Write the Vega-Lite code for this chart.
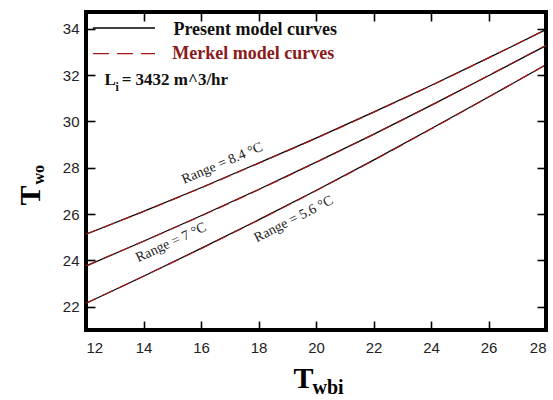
{
  "$schema": "https://vega.github.io/schema/vega-lite/v6.json",
  "width": 460,
  "height": 318,
  "autosize": {"type": "none"},
  "padding": {"left": 86, "top": 12, "right": 7, "bottom": 70},
  "background": "white",
  "config": {
    "view": {"stroke": "black", "strokeWidth": 4},
    "axis": {
      "labelFont": "Liberation Sans",
      "labelFontSize": 15,
      "labelColor": "#222222",
      "domain": false,
      "grid": false,
      "titleFont": "Liberation Serif",
      "titleFontWeight": "bold",
      "titleColor": "black"
    }
  },
  "datasets": {
    "curves": [
      {"model": "Present", "range": 8.4, "twbi": 12, "two": 25.13},
      {"model": "Present", "range": 8.4, "twbi": 14, "two": 26.12},
      {"model": "Present", "range": 8.4, "twbi": 16, "two": 27.14},
      {"model": "Present", "range": 8.4, "twbi": 18, "two": 28.2},
      {"model": "Present", "range": 8.4, "twbi": 20, "two": 29.28},
      {"model": "Present", "range": 8.4, "twbi": 22, "two": 30.4},
      {"model": "Present", "range": 8.4, "twbi": 24, "two": 31.55},
      {"model": "Present", "range": 8.4, "twbi": 26, "two": 32.74},
      {"model": "Present", "range": 8.4, "twbi": 28, "two": 33.96},
      {"model": "Present", "range": 7, "twbi": 12, "two": 23.76},
      {"model": "Present", "range": 7, "twbi": 14, "two": 24.83},
      {"model": "Present", "range": 7, "twbi": 16, "two": 25.93},
      {"model": "Present", "range": 7, "twbi": 18, "two": 27.06},
      {"model": "Present", "range": 7, "twbi": 20, "two": 28.24},
      {"model": "Present", "range": 7, "twbi": 22, "two": 29.44},
      {"model": "Present", "range": 7, "twbi": 24, "two": 30.69},
      {"model": "Present", "range": 7, "twbi": 26, "two": 31.97},
      {"model": "Present", "range": 7, "twbi": 28, "two": 33.27},
      {"model": "Present", "range": 5.6, "twbi": 12, "two": 22.15},
      {"model": "Present", "range": 5.6, "twbi": 14, "two": 23.32},
      {"model": "Present", "range": 5.6, "twbi": 16, "two": 24.52},
      {"model": "Present", "range": 5.6, "twbi": 18, "two": 25.75},
      {"model": "Present", "range": 5.6, "twbi": 20, "two": 27.02},
      {"model": "Present", "range": 5.6, "twbi": 22, "two": 28.33},
      {"model": "Present", "range": 5.6, "twbi": 24, "two": 29.68},
      {"model": "Present", "range": 5.6, "twbi": 26, "two": 31.05},
      {"model": "Present", "range": 5.6, "twbi": 28, "two": 32.44},
      {"model": "Merkel", "range": 8.4, "twbi": 12, "two": 25.14},
      {"model": "Merkel", "range": 8.4, "twbi": 14, "two": 26.11},
      {"model": "Merkel", "range": 8.4, "twbi": 16, "two": 27.13},
      {"model": "Merkel", "range": 8.4, "twbi": 18, "two": 28.19},
      {"model": "Merkel", "range": 8.4, "twbi": 20, "two": 29.27},
      {"model": "Merkel", "range": 8.4, "twbi": 22, "two": 30.39},
      {"model": "Merkel", "range": 8.4, "twbi": 24, "two": 31.54},
      {"model": "Merkel", "range": 8.4, "twbi": 26, "two": 32.74},
      {"model": "Merkel", "range": 8.4, "twbi": 28, "two": 33.97},
      {"model": "Merkel", "range": 7, "twbi": 12, "two": 23.77},
      {"model": "Merkel", "range": 7, "twbi": 14, "two": 24.83},
      {"model": "Merkel", "range": 7, "twbi": 16, "two": 25.92},
      {"model": "Merkel", "range": 7, "twbi": 18, "two": 27.05},
      {"model": "Merkel", "range": 7, "twbi": 20, "two": 28.23},
      {"model": "Merkel", "range": 7, "twbi": 22, "two": 29.44},
      {"model": "Merkel", "range": 7, "twbi": 24, "two": 30.69},
      {"model": "Merkel", "range": 7, "twbi": 26, "two": 31.98},
      {"model": "Merkel", "range": 7, "twbi": 28, "two": 33.28},
      {"model": "Merkel", "range": 5.6, "twbi": 12, "two": 22.16},
      {"model": "Merkel", "range": 5.6, "twbi": 14, "two": 23.32},
      {"model": "Merkel", "range": 5.6, "twbi": 16, "two": 24.51},
      {"model": "Merkel", "range": 5.6, "twbi": 18, "two": 25.74},
      {"model": "Merkel", "range": 5.6, "twbi": 20, "two": 27.01},
      {"model": "Merkel", "range": 5.6, "twbi": 22, "two": 28.32},
      {"model": "Merkel", "range": 5.6, "twbi": 24, "two": 29.67},
      {"model": "Merkel", "range": 5.6, "twbi": 26, "two": 31.05},
      {"model": "Merkel", "range": 5.6, "twbi": 28, "two": 32.45}
    ],
    "legendLines": [
      {"model": "Present", "twbi": 12.24, "two": 34.03},
      {"model": "Present", "twbi": 14.4, "two": 34.03},
      {"model": "Merkel", "twbi": 12.24, "two": 32.92},
      {"model": "Merkel", "twbi": 14.4, "two": 32.92}
    ],
    "legendText": [
      {"model": "Present", "label": "Present model curves", "twbi": 15.04, "two": 33.74},
      {"model": "Merkel", "label": "Merkel model curves", "twbi": 15.0, "two": 32.7}
    ],
    "noteMain": [
      {"label": "L", "twbi": 12.64, "two": 31.58},
      {"label": "= 3432 m^3/hr", "twbi": 13.24, "two": 31.58}
    ],
    "noteSub": [
      {"label": "i", "twbi": 13.03, "two": 31.33}
    ],
    "rangeLabels": [
      {"label": "Range = 8.4 °C", "range": 8.4, "twbi": 16.74, "two": 28.19},
      {"label": "Range = 7 °C", "range": 7, "twbi": 14.96, "two": 24.77},
      {"label": "Range = 5.6 °C", "range": 5.6, "twbi": 19.22, "two": 25.78}
    ]
  },
  "resolve": {"axis": {"x": "independent", "y": "independent"}},
  "layer": [
    {
      "data": {"name": "curves"},
      "transform": [{"filter": "datum.model === 'Present'"}],
      "mark": {"type": "line", "color": "black", "strokeWidth": 1.2, "interpolate": "monotone"},
      "encoding": {
        "x": {
          "field": "twbi", "type": "quantitative",
          "scale": {"domain": [12, 28], "nice": false, "zero": false},
          "axis": {
            "orient": "bottom", "values": [12, 14, 16, 18, 20, 22, 24, 26, 28], "zindex": 2,
            "ticks": true, "tickSize": -9, "tickColor": "black", "tickWidth": 1.6, "labelPadding": 19.5,
            "title": "T", "titleFontSize": 30, "titleX": 207, "titleY": 57,
            "titleAlign": "left", "titleBaseline": "alphabetic"
          }
        },
        "y": {
          "field": "two", "type": "quantitative",
          "scale": {"domain": [21, 34.72], "nice": false, "zero": false},
          "axis": {
            "orient": "left", "values": [22, 24, 26, 28, 30, 32, 34], "zindex": 2,
            "ticks": true, "tickSize": -9, "tickColor": "black", "tickWidth": 1.6, "labelPadding": 16,
            "title": "T", "titleFontSize": 30, "titleAngle": 270, "titleX": -46.5, "titleY": 193,
            "titleAlign": "left", "titleBaseline": "alphabetic"
          }
        },
        "detail": {"field": "range", "type": "nominal"}
      }
    },
    {
      "data": {"name": "curves"},
      "transform": [{"filter": "datum.model === 'Merkel'"}],
      "mark": {"type": "line", "color": "#a01818", "strokeWidth": 1.2, "strokeDash": [12, 6], "interpolate": "monotone"},
      "encoding": {
        "x": {
          "field": "twbi", "type": "quantitative",
          "axis": {
            "orient": "bottom", "labels": false, "ticks": false,
            "title": "wbi", "titleFontSize": 20, "titleX": 226, "titleY": 63,
            "titleAlign": "left", "titleBaseline": "alphabetic"
          }
        },
        "y": {
          "field": "two", "type": "quantitative",
          "axis": {
            "orient": "left", "labels": false, "ticks": false,
            "title": "wo", "titleFontSize": 16, "titleAngle": 270, "titleX": -42.5, "titleY": 172,
            "titleAlign": "left", "titleBaseline": "alphabetic"
          }
        },
        "detail": {"field": "range", "type": "nominal"}
      }
    },
    {
      "data": {"name": "rangeLabels"},
      "mark": {"type": "text", "font": "Liberation Serif", "fontSize": 14, "color": "#222222", "align": "center", "baseline": "middle"},
      "encoding": {
        "x": {
          "field": "twbi", "type": "quantitative",
          "axis": {"orient": "top", "labels": false, "title": null, "zindex": 2, "ticks": true, "tickSize": -9, "tickColor": "black", "tickWidth": 1.6, "values": [12, 14, 16, 18, 20, 22, 24, 26, 28]}
        },
        "y": {
          "field": "two", "type": "quantitative",
          "axis": {"orient": "right", "labels": false, "title": null, "zindex": 2, "ticks": true, "tickSize": -9, "tickColor": "black", "tickWidth": 1.6, "values": [22, 24, 26, 28, 30, 32, 34]}
        },
        "text": {"field": "label"},
        "angle": {"field": "range", "type": "quantitative", "scale": {"domain": [5.6, 8.4], "range": [333, 337]}, "legend": null}
      }
    },
    {
      "data": {"name": "legendLines"},
      "transform": [{"filter": "datum.model === 'Present'"}],
      "mark": {"type": "line", "color": "black", "strokeWidth": 1.3},
      "encoding": {
        "x": {"field": "twbi", "type": "quantitative", "axis": null},
        "y": {"field": "two", "type": "quantitative", "axis": null}
      }
    },
    {
      "data": {"name": "legendLines"},
      "transform": [{"filter": "datum.model === 'Merkel'"}],
      "mark": {"type": "line", "color": "#a01818", "strokeWidth": 1.3, "strokeDash": [16, 8]},
      "encoding": {
        "x": {"field": "twbi", "type": "quantitative", "axis": null},
        "y": {"field": "two", "type": "quantitative", "axis": null}
      }
    },
    {
      "data": {"name": "legendText"},
      "mark": {"type": "text", "font": "Liberation Serif", "fontWeight": "bold", "fontSize": 18, "align": "left", "baseline": "alphabetic"},
      "encoding": {
        "x": {"field": "twbi", "type": "quantitative", "axis": null},
        "y": {"field": "two", "type": "quantitative", "axis": null},
        "text": {"field": "label"},
        "color": {"field": "model", "type": "nominal", "scale": {"domain": ["Present", "Merkel"], "range": ["#111111", "#8b1a1a"]}, "legend": null}
      }
    },
    {
      "data": {"name": "noteMain"},
      "mark": {"type": "text", "font": "Liberation Serif", "fontWeight": "bold", "fontSize": 17, "align": "left", "baseline": "alphabetic", "color": "#111111"},
      "encoding": {
        "x": {"field": "twbi", "type": "quantitative", "axis": null},
        "y": {"field": "two", "type": "quantitative", "axis": null},
        "text": {"field": "label"}
      }
    },
    {
      "data": {"name": "noteSub"},
      "mark": {"type": "text", "font": "Liberation Serif", "fontWeight": "bold", "fontSize": 12, "align": "left", "baseline": "alphabetic", "color": "#111111"},
      "encoding": {
        "x": {"field": "twbi", "type": "quantitative", "axis": null},
        "y": {"field": "two", "type": "quantitative", "axis": null},
        "text": {"field": "label"}
      }
    }
  ]
}
